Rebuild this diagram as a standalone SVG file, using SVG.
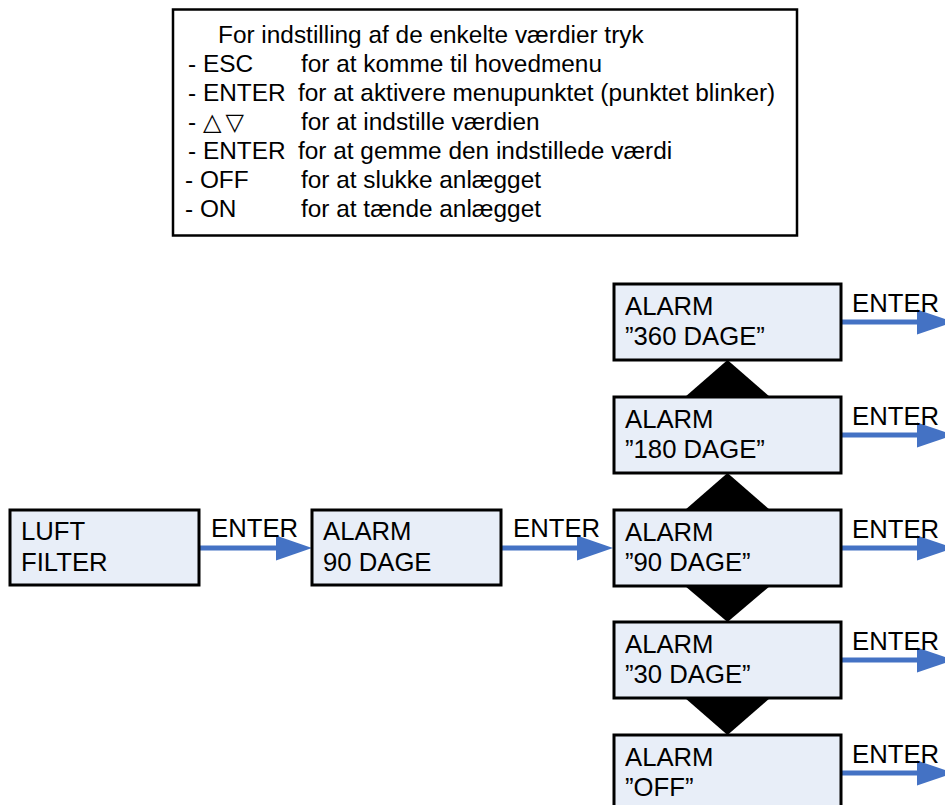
<svg xmlns="http://www.w3.org/2000/svg" width="945" height="805" viewBox="0 0 945 805">
<style>
.box{fill:#E8EEF8;stroke:#000;stroke-width:3}
.t{font-family:"Liberation Sans","DejaVu Sans",Arial,sans-serif;font-size:25.7px;fill:#000}
.h{font-family:"Liberation Sans","DejaVu Sans",Arial,sans-serif;font-size:24.4px;fill:#000}
.sym{font-family:"DejaVu Sans",sans-serif;font-size:24px}
.ln{stroke:#4472C4;stroke-width:5;stroke-linecap:round;fill:none}
.hd{fill:#4472C4}
.tri{fill:#000}
</style>
<rect width="945" height="805" fill="#fff"/>
<g id="legend">
<rect x="173" y="9.5" width="624" height="226" fill="#fff" stroke="#000" stroke-width="2.5"/>
<text class="h" x="218" y="43">For indstilling af de enkelte værdier tryk</text>
<text class="h" x="188" y="72">- ESC</text><text class="h" x="301" y="72">for at komme til hovedmenu</text>
<text class="h" x="188" y="101">- ENTER</text><text class="h" x="298" y="101">for at aktivere menupunktet (punktet blinker)</text>
<text class="h" x="188" y="130">- <tspan class="sym">△</tspan><tspan class="sym" dx="4">▽</tspan></text><text class="h" x="301" y="130">for at indstille værdien</text>
<text class="h" x="188" y="159">- ENTER</text><text class="h" x="298" y="159">for at gemme den indstillede værdi</text>
<text class="h" x="185" y="188">- OFF</text><text class="h" x="301" y="188">for at slukke anlægget</text>
<text class="h" x="185" y="217">- ON</text><text class="h" x="301" y="217">for at tænde anlægget</text>
</g>
<g id="connectors">
<line class="ln" x1="199" y1="548" x2="278" y2="548"/><polygon class="hd" points="276,535.5 312,548 276,560.5"/>
<text class="t" x="211" y="537">ENTER</text>
<line class="ln" x1="501" y1="548" x2="579" y2="548"/><polygon class="hd" points="577,535.5 613,548 577,560.5"/>
<text class="t" x="513" y="537">ENTER</text>
<line class="ln" x1="841" y1="322" x2="919" y2="322"/><polygon class="hd" points="917,309.5 954,322 917,334.5"/>
<text class="t" x="852" y="312">ENTER</text>
<line class="ln" x1="841" y1="435" x2="919" y2="435"/><polygon class="hd" points="917,422.5 954,435 917,447.5"/>
<text class="t" x="852" y="425">ENTER</text>
<line class="ln" x1="841" y1="548" x2="919" y2="548"/><polygon class="hd" points="917,535.5 954,548 917,560.5"/>
<text class="t" x="852" y="538">ENTER</text>
<line class="ln" x1="841" y1="660" x2="919" y2="660"/><polygon class="hd" points="917,647.5 954,660 917,672.5"/>
<text class="t" x="852" y="650">ENTER</text>
<line class="ln" x1="841" y1="773" x2="919" y2="773"/><polygon class="hd" points="917,760.5 954,773 917,785.5"/>
<text class="t" x="852" y="763">ENTER</text>
<polygon class="tri" points="727.5,360 685,397 770,397"/>
<polygon class="tri" points="727.5,473 685,510 770,510"/>
<polygon class="tri" points="685,586 770,586 727.5,622"/>
<polygon class="tri" points="685,698 770,698 727.5,735"/>
</g>
<g id="luft-filter"><rect class="box" x="10" y="510" width="189" height="75"/><text class="t" x="21" y="540">LUFT</text><text class="t" x="21" y="571">FILTER</text></g>
<g id="alarm-90"><rect class="box" x="312" y="510" width="189" height="75"/><text class="t" x="323" y="540">ALARM</text><text class="t" x="323" y="571">90 DAGE</text></g>
<g id="alarm-360"><rect class="box" x="614" y="284" width="227" height="76"/><text class="t" x="625" y="315">ALARM</text><text class="t" x="625" y="345">”360 DAGE”</text></g>
<g id="alarm-180"><rect class="box" x="614" y="397" width="227" height="76"/><text class="t" x="625" y="428">ALARM</text><text class="t" x="625" y="458">”180 DAGE”</text></g>
<g id="alarm-90b"><rect class="box" x="614" y="510" width="227" height="76"/><text class="t" x="625" y="541">ALARM</text><text class="t" x="625" y="571">”90 DAGE”</text></g>
<g id="alarm-30"><rect class="box" x="614" y="622" width="227" height="76"/><text class="t" x="625" y="653">ALARM</text><text class="t" x="625" y="683">”30 DAGE”</text></g>
<g id="alarm-off"><rect class="box" x="614" y="735" width="227" height="80"/><text class="t" x="625" y="766">ALARM</text><text class="t" x="625" y="796">”OFF”</text></g>
</svg>
